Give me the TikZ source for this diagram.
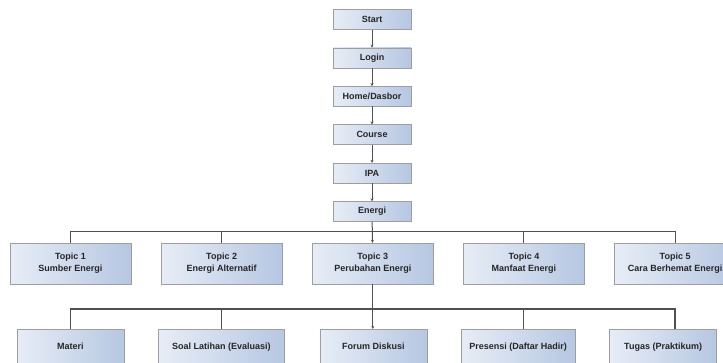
\documentclass[tikz,border=0pt]{standalone}
\usepackage{fontspec}
\setmainfont{Liberation Sans}
\usetikzlibrary{positioning, arrows.meta}
\definecolor{boxLight}{HTML}{E7EDF6}
\definecolor{boxDark}{HTML}{B6C7E2}
\definecolor{boxEdge}{HTML}{9E9E9E}
\definecolor{lineGray}{HTML}{505050}

\begin{document}
\begin{tikzpicture}[x=1pt, y=1pt,
  box/.style={draw=boxEdge, left color=boxLight, right color=boxDark, inner sep=0pt, align=center, text=black!85, font=\bfseries\fontsize{9}{12}\selectfont},
  small/.style={box, minimum width=78pt, minimum height=20pt},
  topic/.style={box, minimum width=121pt, minimum height=41pt},
  task/.style={box, minimum height=36pt, text height=7pt, text depth=2pt},
  link/.style={draw=lineGray, line width=1pt},
  arr/.style={link, -{Stealth[length=3pt, width=3pt]}}
]
\clip (0,0) rectangle (723,362);
\node[small] (start) at (372,342.5) {Start};
\node[small, below=18pt of start] (login) {Login};
\node[small, below=18pt of login] (home) {Home/Dasbor};
\node[small, below=18pt of home] (course) {Course};
\node[small, below=18pt of course] (ipa) {IPA};
\node[small, below=18pt of ipa] (energi) {Energi};

\node[topic] (t1) at (70.5,98.5) {Topic 1\\Sumber Energi};
\node[topic, right=29.75pt of t1] (t2) {Topic 2\\Energi Alternatif};
\node[topic, right=29.75pt of t2] (t3) {Topic 3\\Perubahan Energi};
\node[topic, right=29.75pt of t3] (t4) {Topic 4\\Manfaat Energi};
\node[topic, right=29.75pt of t4] (t5) {Topic 5\\Cara Berhemat Energi};

\node[task, minimum width=107pt, anchor=north] (m1) at (70.5,33) {Materi};
\node[task, minimum width=126pt, right=34pt of m1] (m2) {Soal Latihan (Evaluasi)};
\node[task, minimum width=107pt, right=35pt of m2] (m3) {Forum Diskusi};
\node[task, minimum width=114pt, right=34pt of m3] (m4) {Presensi (Daftar Hadir)};
\node[task, minimum width=107pt, right=34pt of m4] (m5) {Tugas (Praktikum)};

\draw[arr] (start) -- (login);
\draw[arr] (login) -- (home);
\draw[arr] (home) -- (course);
\draw[arr] (course) -- (ipa);
\draw[arr] (ipa) -- (energi);

% topics
\draw[link] (t1.north) -- ++(0,11) coordinate (b1) -| (t5.north);
\draw[link] (t2.north) -- (t2.north |- b1);
\draw[link] (t4.north) -- (t4.north |- b1);
\draw[arr] (energi) -- (t3);

% activities
\draw[link, line width=1.5pt] (m1.north) -- ++(0,20) coordinate (b2) -| (t5.south |- m5.north);
\draw[link, line width=1.5pt] (m2.north) -- (m2.north |- b2);
\draw[link] (t4.south |- m4.north) -- (t4.south |- b2);
\draw[arr] (t3.south) -- (t3.south |- m3.north);
\end{tikzpicture}
\end{document}
